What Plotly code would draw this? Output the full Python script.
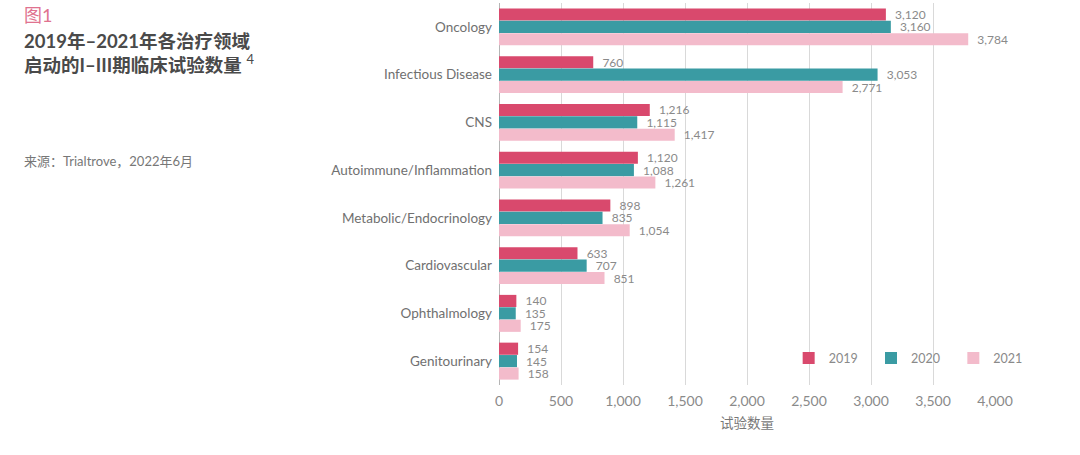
import plotly.graph_objects as go

categories = ["Oncology", "Infectious Disease", "CNS", "Autoimmune/Inflammation",
              "Metabolic/Endocrinology", "Cardiovascular", "Ophthalmology", "Genitourinary"]
v2019 = [3120, 760, 1216, 1120, 898, 633, 140, 154]
v2020 = [3160, 3053, 1115, 1088, 835, 707, 135, 145]
v2021 = [3784, 2771, 1417, 1261, 1054, 851, 175, 158]
years = ["2019", "2020", "2021"]
colors = ["#D9496D", "#3A9BA3", "#F3BBCB"]
tick_vals = [0, 500, 1000, 1500, 2000, 2500, 3000, 3500, 4000]
tick_text = ["0", "500", "1,000", "1,500", "2,000", "2,500", "3,000", "3,500", "4,000"]

font_family = "Lato, Noto Sans CJK SC, sans-serif"
legend_ids = ["legend", "legend2", "legend3"]
legend_x = [0.584, 0.75, 0.916]

fig = go.Figure()
for name, vals, col, lid in zip(years, [v2019, v2020, v2021], colors, legend_ids):
    fig.add_trace(go.Bar(
        y=categories, x=vals, name=name, orientation="h", legend=lid,
        marker=dict(color=col, line=dict(width=0)),
        text=["\u00a0\u00a0" + f"{v:,}" for v in vals], textposition="outside",
        constraintext="none",
        textfont=dict(color="#8a8a8a", size=12, family=font_family),
        cliponaxis=False,
    ))

leg_common = dict(orientation="h", y=0.07, xanchor="left", yanchor="middle",
                  font=dict(size=12.5, color="#8a8a8a", family=font_family),
                  bgcolor="rgba(0,0,0,0)", itemwidth=30)

fig.update_layout(
    width=1080, height=455,
    margin=dict(l=499, r=85, t=3, b=70),
    barmode="group", bargap=0.22, bargroupgap=0.02,
    plot_bgcolor="white", paper_bgcolor="white",
    font=dict(family=font_family, color="#777777", size=12),
    xaxis=dict(range=[0, 4000], tickvals=tick_vals, ticktext=tick_text,
               showgrid=True, gridcolor="#d9d9d9", gridwidth=1,
               zeroline=True, zerolinecolor="#b5b5b5", zerolinewidth=1,
               tickfont=dict(size=14, color="#8a8a8a"), ticklabelstandoff=6,
               title=dict(text="试验数量", font=dict(size=13.5, color="#777777"), standoff=10)),
    yaxis=dict(autorange="reversed", showgrid=False,
               tickfont=dict(size=13.5, color="#707070"), ticks="", ticklen=0,
               ticklabelstandoff=6),
    legend=dict(x=legend_x[0], **leg_common),
    legend2=dict(x=legend_x[1], **leg_common),
    legend3=dict(x=legend_x[2], **leg_common),
    showlegend=True,
)

fig.add_annotation(xref="paper", yref="paper", x=-499/496, y=1.0, xanchor="left", yanchor="top",
                   text="图1", showarrow=False, font=dict(size=18, color="#E0728F", family=font_family),
                   xshift=22, yshift=1)
fig.add_annotation(xref="paper", yref="paper", x=-499/496, y=1.0, xanchor="left", yanchor="top",
                   text="<b>2019年–2021年各治疗领域<br>启动的I–III期临床试验数量</b> <sup>4</sup>",
                   showarrow=False, align="left",
                   font=dict(size=18.5, color="#4a4a4a", family=font_family),
                   xshift=22, yshift=-25)
fig.add_annotation(xref="paper", yref="paper", x=-499/496, y=1.0, xanchor="left", yanchor="top",
                   text="来源：Trialtrove，2022年6月", showarrow=False, align="left",
                   font=dict(size=13, color="#777777", family=font_family),
                   xshift=22, yshift=-148)

fig.write_html("out.html")
